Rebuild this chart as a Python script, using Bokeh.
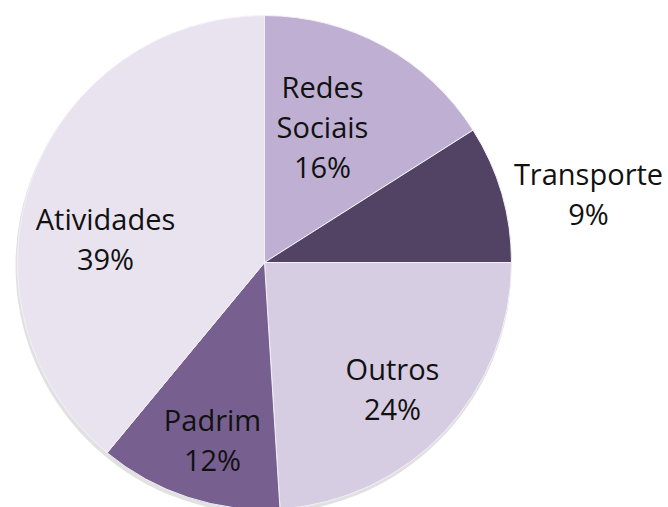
import math
from bokeh.plotting import figure
from bokeh.models import Range1d
from bokeh.core.properties import value
from bokeh.embed import file_html
from bokeh.resources import INLINE

# ---- data ----
categories = ["Redes Sociais", "Transporte", "Outros", "Padrim", "Atividades"]
shares = [16, 9, 24, 12, 39]
pct_labels = ["16%", "9%", "24%", "12%", "39%"]
name_lines = [["Redes", "Sociais"], ["Transporte"], ["Outros"], ["Padrim"], ["Atividades"]]

# ---- style ----
colors = ["#BFB0D3", "#524263", "#D7CDE2", "#77608F", "#E9E3F0"]
# label block offsets from pie centre (px, y up)
label_dx = [58, 324, 128, -52, -159]
label_dy = [136, 69, -126, -177, 24]
W, H = 668, 507
cx, cy, r = 264, H - 262, 247
line_gap = 40
font = "Open Sans"
fsize = "29px"

p = figure(width=W, height=H, output_backend="svg", toolbar_location=None,
           x_range=Range1d(0, W), y_range=Range1d(0, H), min_border=0)
p.axis.visible = False
p.grid.visible = False
p.outline_line_color = None
p.background_fill_color = "white"

# soft shadow
p.circle(x=[cx - 1], y=[cy - 3], radius=r + 1, fill_color="#888888", fill_alpha=0.25, line_color=None)

total = float(sum(shares))
start = math.pi / 2
starts, ends = [], []
for s in shares:
    a = 2 * math.pi * s / total
    starts.append(start)
    ends.append(start - a)
    start -= a

p.wedge(x=[cx] * len(shares), y=[cy] * len(shares), radius=r,
        start_angle=starts, end_angle=ends, direction="clock",
        fill_color=colors, line_color="#F4F0F7", line_width=1)

for i in range(len(categories)):
    lines = name_lines[i] + [pct_labels[i]]
    n = len(lines)
    bx = cx + label_dx[i]
    by = cy + label_dy[i]
    for j, t in enumerate(lines):
        ly = by + ((n - 1) / 2 - j) * line_gap
        p.text(x=[bx], y=[ly], text=[t], text_align="center", text_baseline="middle",
               text_font=value(font), text_font_size=fsize, text_color="#111111")

open("out.html", "w").write(file_html(p, INLINE))
